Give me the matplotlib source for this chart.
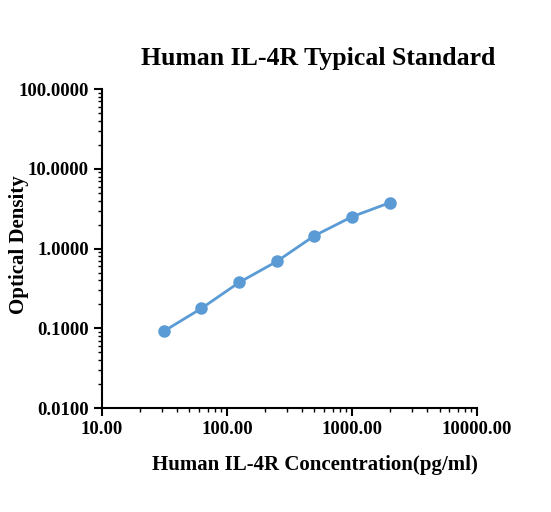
import matplotlib
matplotlib.use("Agg")
import matplotlib.pyplot as plt
from matplotlib.ticker import FixedLocator, FuncFormatter, LogLocator

conc = [31.25, 62.5, 125, 250, 500, 1000, 2000]
od = [0.092, 0.178, 0.376, 0.69, 1.45, 2.51, 3.76]
xticks = [10, 100, 1000, 10000]
yticks = [0.01, 0.1, 1, 10, 100]

plt.rcParams['font.family'] = ['Liberation Serif', 'DejaVu Serif']
fig = plt.figure(figsize=(5.51, 5.12), dpi=100)
ax = fig.add_axes([0.185, 0.203, 0.681, 0.623])
ax.plot(conc, od, color='#5B9BD5', lw=2, marker='o', ms=8)
ax.set_xscale('log'); ax.set_yscale('log')
ax.set_xlim(10, 10000); ax.set_ylim(0.01, 100)
ax.xaxis.set_major_locator(FixedLocator(xticks))
ax.yaxis.set_major_locator(FixedLocator(yticks))
ax.xaxis.set_minor_locator(LogLocator(subs=range(2, 10)))
ax.yaxis.set_minor_locator(LogLocator(subs=range(2, 10)))
ax.xaxis.set_major_formatter(FuncFormatter(lambda v, p: f"{v:.2f}"))
ax.yaxis.set_major_formatter(FuncFormatter(lambda v, p: f"{v:.4f}"))
for s in ['top', 'right']:
    ax.spines[s].set_visible(False)
for s in ['left', 'bottom']:
    ax.spines[s].set_linewidth(1.5)
ax.tick_params(which='major', length=6, width=1.5, labelsize=13.5)
ax.tick_params(which='minor', length=3, width=1)
for t in ax.get_xticklabels() + ax.get_yticklabels():
    t.set_fontweight('bold')
fig.text(318/551, 1-59/512, 'Human IL-4R Typical Standard', fontsize=18.5,
         fontweight='bold', ha='center', va='center')
fig.text(315/551, 1-465/512, 'Human IL-4R Concentration(pg/ml)', fontsize=15,
         fontweight='bold', ha='center', va='center')
fig.text(19/551, 1-245/512, 'Optical Density', fontsize=15, fontweight='bold',
         ha='center', va='center', rotation=90)
fig.savefig('out.png', dpi=100)
